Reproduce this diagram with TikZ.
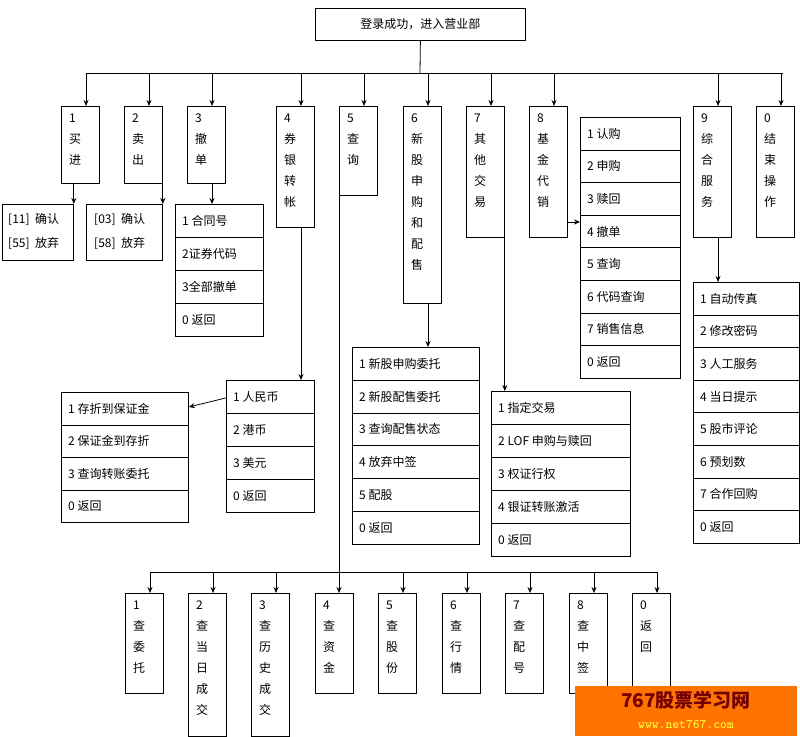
\documentclass[tikz,border=0pt]{standalone}
\usepackage{fontspec}
\setmainfont{Noto Sans CJK SC}
\usetikzlibrary{arrows.meta}
\begin{document}
\begin{tikzpicture}[x=1pt,y=-1pt,
  box/.style={draw,line width=0.8pt,rectangle,inner sep=0pt,anchor=north west},
  txt/.style={font=\fontsize{12}{21}\selectfont,inner sep=0pt,align=left},
  ltxt/.style={font=\fontsize{12}{14}\selectfont,inner sep=0pt,anchor=west},
  con/.style={line width=0.8pt,-{Stealth[length=6pt,width=5pt]}},
  ln/.style={line width=0.8pt}]
\useasboundingbox (0,0) rectangle (800,736);
\newcommand\topbox[5]{% name, x, y, height, text
  \node[box,minimum width=38pt,minimum height=#4pt] (#1) at (#2,#3) {};
  \coordinate (#1a) at (#2+25,#3);
  \node[txt,anchor=north west] (#1t) at (#2+8,#3+8) {#5};}
\newcommand\menulist[6]{% name,x,y,width,rowh,items
  \foreach \t [count=\i] in {#6} {
    \node[box,minimum width=#4pt,minimum height=#5pt] (#1-\i) at (#2,{#3+(\i-1)*#5}) {};
    \node[ltxt] at ([xshift=7pt]#1-\i.west) {\t};}}
% top
\node[box,minimum width=210pt,minimum height=32pt] (root) at (315,8) {};
\node[font=\fontsize{12}{14}\selectfont] at (root.center) {登录成功，进入营业部};
\coordinate (bus) at (420,73);
\draw[ln] (root.south) -- (bus);
\draw[ln] (86,73) -- (783,73);
\topbox{t1}{61}{106}{77}{1\\买\\进}
\topbox{t2}{124}{106}{77}{2\\卖\\出}
\topbox{t3}{187}{106}{77}{3\\撤\\单}
\topbox{t4}{276}{106}{121}{4\\券\\银\\转\\帐}
\topbox{t5}{339}{106}{89}{5\\查\\询}
\topbox{t6}{403}{106}{197}{6\\新\\股\\申\\购\\和\\配\\售}
\topbox{t7}{466}{106}{131}{7\\其\\他\\交\\易}
\topbox{t8}{529}{106}{131}{8\\基\\金\\代\\销}
\topbox{t9}{693}{106}{131}{9\\综\\合\\服\\务}
\topbox{t0}{756}{106}{131}{0\\结\\束\\操\\作}
\foreach \n in {t1,t2,t3,t4,t5,t6,t7,t8,t9,t0}
  \draw[con] (\n a |- 0,73) -- (\n a);
% sub menus
\node[box,minimum width=71pt,minimum height=56pt] (b1) at (2,204) {};
\node[ltxt] at (8,219) {[11]\ \ 确认};
\node[ltxt] at (8,243) {[55]\ \ 放弃};
\node[box,minimum width=76pt,minimum height=56pt] (b2) at (86,204) {};
\node[ltxt] at (94,219) {[03]\ \ 确认};
\node[ltxt] at (94,243) {[58]\ \ 放弃};
\draw[con] (t1.south -| b1.north east) -- (b1.north east);
\draw[con] (t2.south east) -- (b2.north east);
\menulist{m3}{175}{204}{88}{33}{1 合同号,2证券代码,3全部撤单,0 返回}
\draw[con] (t3a |- t3.south) -- (m3-1.north -| t3a);
\menulist{m4}{226}{380}{88}{33}{1\ 人民币,2\ 港币,3\ 美元,0 返回}
\draw[con] (t4a |- t4.south) -- (m4-1.north -| t4a);
\menulist{m4b}{61}{392}{127}{32.5}{1 存折到保证金,2 保证金到存折,3 查询转账委托,0 返回}
\draw[con] ([yshift=-1pt]m4-1.west) -- (m4b-1.east |- 0,407);
\menulist{m6}{352}{347}{127}{32.8}{1 新股申购委托,2 新股配售委托,3 查询配售状态,4 放弃中签,5 配股,0 返回}
\draw[con] (t6a |- t6.south) -- (m6-1.north -| t6a);
\menulist{m7}{491}{391}{139}{33}{1 指定交易,2 LOF 申购与赎回,3 权证行权,4 银证转账激活,0 返回}
\draw[con] (t7.south east) -- (m7-1.north -| t7.south east);
\menulist{m8}{580}{117}{100}{32.6}{1 认购,2 申购,3 赎回,4 撤单,5 查询,6 代码查询,7 销售信息,0 返回}
\draw[con] (t8.east |- 0,222) -- (m8-4.west |- 0,222);
\menulist{m9}{693}{282}{106}{32.6}{1 自动传真,2 修改密码,3 人工服务,4 当日提示,5 股市评论,6 预划数,7 合作回购,0 返回}
\draw[con] (t9a |- t9.south) -- (m9-1.north -| t9a);
% query row
\draw[ln] (150,572) -- (657,572);
\topbox{q1}{125}{593}{100}{1\\查\\委\\托}
\topbox{q2}{188}{593}{143}{2\\查\\当\\日\\成\\交}
\topbox{q3}{251}{593}{143}{3\\查\\历\\史\\成\\交}
\topbox{q4}{315}{593}{100}{4\\查\\资\\金}
\topbox{q5}{378}{593}{100}{5\\查\\股\\份}
\topbox{q6}{442}{593}{100}{6\\查\\行\\情}
\topbox{q7}{505}{593}{100}{7\\查\\配\\号}
\topbox{q8}{569}{593}{100}{8\\查\\中\\签}
\topbox{q0}{632}{593}{100}{0\\返\\回}
\draw[con] (t5.south west) -- (q4a -| t5.south west);
\foreach \n in {q1,q2,q3,q5,q6,q7,q8,q0}
  \draw[con] (\n a |- 0,572) -- (\n a);
% watermark
\fill[orange!90!red] (575,686) rectangle (797,736);
\node[font=\fontsize{19}{20}\selectfont\bfseries,text=red!45!black] (wm1) at (686,700) {767股票学习网};
\node[font=\fontsize{13}{14}\ttfamily\bfseries,text=yellow!80!white] (wm2) at (686,724) {www.net767.com};
\end{tikzpicture}
\end{document}
